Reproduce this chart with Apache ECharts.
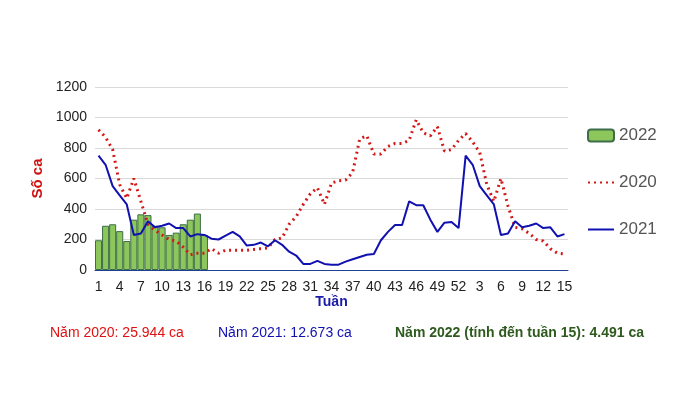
<!DOCTYPE html><html><head><meta charset="utf-8"><script src="https://cdn.jsdelivr.net/npm/echarts@6/dist/echarts.min.js"></script>
<style>html,body{margin:0;background:#fff}#c{width:690px;height:408px}</style></head><body><div id="c"></div><script>
const weeks=[];for(let i=1;i<=52;i++)weeks.push(String(i));for(let i=1;i<=15;i++)weeks.push(String(i));
const data2022=[195,290,300,255,190,330,365,360,290,280,230,245,300,330,370,230];
const data2020=[920,870,790,560,470,600,450,300,260,230,200,190,150,100,110,110,140,110,130,130,130,130,135,140,145,200,210,300,350,430,500,540,430,570,585,590,640,860,880,760,760,810,830,830,850,985,900,880,940,780,790,850,895,840,770,560,450,600,420,280,270,240,200,190,140,110,105];
const data2021=[750,690,550,490,430,230,240,320,280,290,305,275,275,220,235,230,205,200,225,250,220,160,165,180,155,195,165,120,95,40,40,60,40,35,35,55,70,85,100,105,195,250,295,295,450,425,425,330,250,310,315,275,750,690,550,490,430,230,240,320,280,290,305,275,280,220,235];
const c=echarts.init(document.getElementById('c'));
const F='Liberation Sans, Arial, sans-serif';
c.setOption({animation:false,textStyle:{fontFamily:F},
grid:{left:95,right:122,top:87,bottom:138},
legend:{orient:'vertical',left:582,top:122,itemGap:30,itemWidth:26,itemHeight:12,textStyle:{fontSize:17,color:'#555',fontFamily:F},
data:[{name:'2022'},{name:'2020',itemStyle:{opacity:0}},{name:'2021',itemStyle:{opacity:0}}]},
xAxis:{type:'category',data:weeks,name:'Tuần',nameLocation:'middle',nameGap:24,nameTextStyle:{color:'#1a1aa8',fontWeight:'bold',fontSize:14},
axisTick:{show:false},axisLine:{lineStyle:{color:'#1f3f8f'}},axisLabel:{interval:2,color:'#222',fontSize:14,margin:10}},
yAxis:{type:'value',min:0,max:1200,interval:200,name:'Số ca',nameLocation:'middle',nameGap:32,nameTextStyle:{color:'#d01010',fontWeight:'bold',fontSize:15},
axisLabel:{color:'#222',fontSize:14,formatter:v=>String(v)},splitLine:{lineStyle:{color:'#d9d9d9'}}},
series:[
{name:'2022',type:'bar',data:data2022,barCategoryGap:'0%',itemStyle:{color:'#8dc65a',borderColor:'#3c6e4a',borderWidth:1}},
{name:'2020',type:'line',data:data2020,symbol:'none',lineStyle:{color:'#d41818',width:3,type:[2,4]},itemStyle:{color:'#d41818'}},
{name:'2021',type:'line',data:data2021,symbol:'none',lineStyle:{color:'#1111b0',width:2},itemStyle:{color:'#1111b0'}}
],
graphic:[
{type:'text',left:50,top:326,style:{text:'Năm 2020: 25.944 ca',fill:'#e01010',font:'14px '+F}},
{type:'text',left:218,top:326,style:{text:'Năm 2021: 12.673 ca',fill:'#1010b0',font:'14px '+F}},
{type:'text',left:395,top:326,style:{text:'Năm 2022 (tính đến tuần 15): 4.491 ca',fill:'#2e5a1e',font:'bold 14px '+F}}
]});
</script></body></html>
